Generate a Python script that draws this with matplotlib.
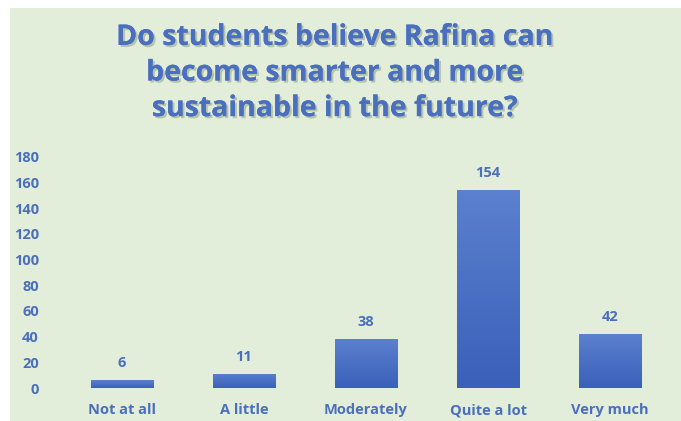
import numpy as np
import matplotlib.pyplot as plt
import matplotlib.patheffects as pe
from matplotlib.patches import Rectangle
from matplotlib.colors import LinearSegmentedColormap

# datos
categorias = ["Not at all", "A little", "Moderately", "Quite a lot", "Very much"]
valores = [6, 11, 38, 154, 42]
ticks_y = [0, 20, 40, 60, 80, 100, 120, 140, 160, 180]
titulo = "Do students believe Rafina can\nbecome smarter and more\nsustainable in the future?"

azul_texto = "#4A6FBE"
fondo = "#E2EED9"

fig = plt.figure(figsize=(6.81, 4.21), dpi=100)
fig.patch.set_facecolor("white")

# fondo verde
ax_fondo = fig.add_axes([0, 0, 1, 1], zorder=-5)
ax_fondo.axis("off")
ax_fondo.add_patch(Rectangle((10 / 681, 0), 1, 1 - 8 / 421, transform=ax_fondo.transAxes,
                             facecolor=fondo, edgecolor="none"))

ax = fig.add_axes([61 / 681, (421 - 388) / 421, (671 - 61) / 681, (388 - 157) / 421])
ax.set_facecolor("none")

x = np.arange(len(categorias))
barras = ax.bar(x, valores, width=0.51, color="#4570C6", zorder=2)

# degradado en las barras
grad = np.linspace(0, 1, 100).reshape(-1, 1)
cmap = LinearSegmentedColormap.from_list("g", ["#3A60BA", "#5B80CE"])
for b in barras:
    im = ax.imshow(grad, cmap=cmap, aspect="auto", origin="lower",
                   extent=[b.get_x(), b.get_x() + b.get_width(), 0, b.get_height()], zorder=3)
    im.set_clip_path(b)
    ax.text(b.get_x() + b.get_width() / 2, b.get_height() + 8, str(int(b.get_height())),
            ha="center", va="bottom", color=azul_texto, fontsize=10.5, fontweight="bold",
            family="Open Sans")

ax.set_xlim(-0.5, len(categorias) - 0.5)
ax.set_ylim(0, 180)
ax.set_yticks(ticks_y)
ax.set_xticks(x)
ax.set_xticklabels(categorias)
for lab in ax.get_xticklabels() + ax.get_yticklabels():
    lab.set_color(azul_texto)
    lab.set_fontweight("bold")
    lab.set_fontsize(10.5)
    lab.set_family("Open Sans")
ax.tick_params(axis="y", length=0, pad=16)
ax.tick_params(axis="x", length=0, pad=11)
for s in ax.spines.values():
    s.set_visible(False)
ax.axhline(0, color="#D4DFCC", lw=0.8, zorder=1)

fig.text(335 / 681, 1 - 73 / 421, titulo, ha="center", va="center", fontsize=20.5,
         fontweight="bold", color=azul_texto, family="Open Sans", linespacing=1.3,
         path_effects=[pe.withSimplePatchShadow(offset=(1.5, -1.5), shadow_rgbFace="#8A9A80", alpha=0.5),
                       pe.Normal()])

fig.savefig("out.png", dpi=100, facecolor=fig.get_facecolor())
